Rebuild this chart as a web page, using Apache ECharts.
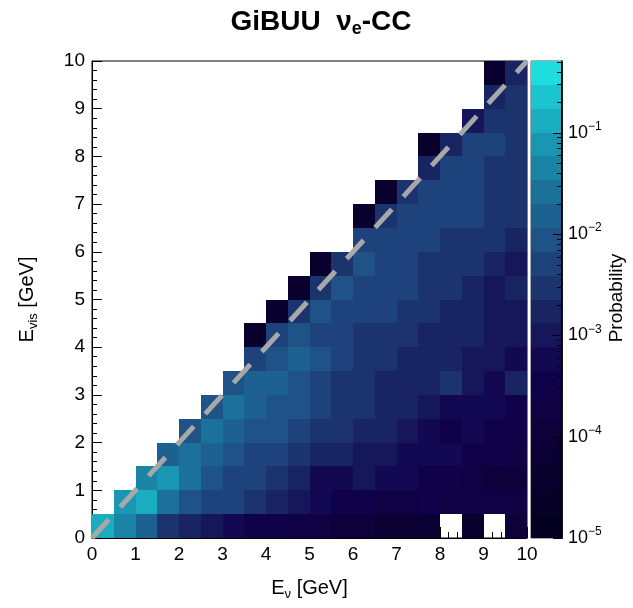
<!DOCTYPE html>
<html>
<head>
<meta charset="utf-8">
<script src="https://cdn.jsdelivr.net/npm/echarts@6/dist/echarts.min.js"></script>
<style>
  html, body { margin: 0; padding: 0; background: #fff; }
  #chart { width: 633px; height: 608px; }
</style>
</head>
<body>
<div id="chart"></div>
<script>
const FONT = '"Liberation Sans", Arial, sans-serif'

// bin edges, same for E_nu and E_vis (GeV)
const binEdges = [0, 0.5, 1, 1.5, 2, 2.5, 3, 3.5, 4, 4.5, 5, 5.5, 6, 6.5, 7, 7.5, 8, 8.5, 9, 9.5, 10]

// probability per E_nu bin (column), listed from the lowest E_vis bin upwards; null = empty bin
const colProb = [
  [0.13],
  [0.045, 0.075],
  [0.015, 0.13, 0.045],
  [0.003, 0.026, 0.075, 0.015],
  [0.0017, 0.009, 0.026, 0.026, 0.009],
  [0.001, 0.005, 0.009, 0.015, 0.026, 0.009],
  [6e-4, 0.005, 0.005, 0.009, 0.015, 0.026, 0.009],
  [3.4e-4, 0.003, 0.005, 0.005, 0.009, 0.015, 0.015, 0.005, 4e-5],
  [3.4e-4, 0.0017, 0.003, 0.005, 0.009, 0.009, 0.015, 0.009, 0.005, 4e-5],
  [2e-4, 0.001, 0.0017, 0.003, 0.005, 0.009, 0.009, 0.015, 0.009, 0.003, 4e-5],
  [2e-4, 6e-4, 6e-4, 0.0017, 0.003, 0.005, 0.005, 0.009, 0.005, 0.009, 0.003, 4e-5],
  [1.1e-4, 3.4e-4, 6e-4, 0.0017, 0.003, 0.003, 0.003, 0.005, 0.005, 0.005, 0.009, 0.003],
  [1.1e-4, 3.4e-4, 0.001, 0.001, 0.0017, 0.003, 0.003, 0.003, 0.003, 0.005, 0.005, 0.009, 0.005, 4e-5],
  [7e-5, 2e-4, 6e-4, 0.001, 0.0017, 0.0017, 0.0017, 0.003, 0.003, 0.005, 0.005, 0.005, 0.005, 0.003, 4e-5],
  [7e-5, 2e-4, 6e-4, 6e-4, 0.001, 0.0017, 0.0017, 0.0017, 0.003, 0.003, 0.005, 0.005, 0.005, 0.005, 0.003],
  [7e-5, 3.4e-4, 3.4e-4, 6e-4, 6e-4, 0.001, 0.0017, 0.0017, 0.0017, 0.003, 0.003, 0.003, 0.005, 0.005, 0.005, 0.0017, 4e-5],
  [null, 2e-4, 3.4e-4, 6e-4, 3.4e-4, 6e-4, 0.003, 0.0017, 0.0017, 0.0017, 0.003, 0.003, 0.003, 0.005, 0.005, 0.005, 0.0017],
  [4e-5, 2e-4, 2e-4, 3.4e-4, 6e-4, 6e-4, 0.001, 0.001, 0.0017, 0.0017, 0.0017, 0.003, 0.003, 0.005, 0.005, 0.005, 0.005, 0.001],
  [null, 2e-4, 1.1e-4, 3.4e-4, 3.4e-4, 6e-4, 6e-4, 0.001, 0.001, 0.001, 0.001, 0.0017, 0.003, 0.003, 0.003, 0.003, 0.005, 0.003, 0.0017, 4e-5],
  [1.1e-4, 2e-4, 1.1e-4, 2e-4, 3.4e-4, 3.4e-4, 0.0017, 6e-4, 0.001, 0.001, 0.0017, 0.001, 0.0017, 0.003, 0.003, 0.003, 0.003, 0.003, 0.003, 0.0017]
]

// diagonal E_vis = E_nu
const diagLine = [[0, 0], [10, 10]]

// colour scale (log10), 20 contour levels like ROOT
const zMin = 1e-5
const zMax = 0.51
const nLevels = 20
const cbDecades = [-5, -4, -3, -2, -1]

// ROOT kDeepSea palette stops
const paletteStops = [0, 0.125, 0.25, 0.375, 0.5, 0.625, 0.75, 0.875, 1]
const paletteR = [0, 9, 13, 17, 24, 32, 27, 25, 29]
const paletteG = [0, 0, 0, 2, 37, 74, 113, 160, 221]
const paletteB = [28, 42, 59, 78, 98, 129, 154, 184, 221]

function deepSea(t) {
  let k = 0
  while (k < paletteStops.length - 2 && t > paletteStops[k + 1]) k++
  const f = (t - paletteStops[k]) / (paletteStops[k + 1] - paletteStops[k])
  const mix = (a) => Math.round(a[k] + (a[k + 1] - a[k]) * f)
  return `rgb(${mix(paletteR)},${mix(paletteG)},${mix(paletteB)})`
}

const logLo = Math.log10(zMin)
const logHi = Math.log10(zMax)
const step = (logHi - logLo) / nLevels

const pieces = []
for (let k = 0; k < nLevels; k++) {
  const piece = {gte: logLo + k * step, color: deepSea((k + 0.99) / nLevels)}
  if (k === nLevels - 1) piece.lte = logHi + 1
  else piece.lt = logLo + (k + 1) * step
  pieces.push(piece)
}

// [x0, x1, y0, y1, log10(p)]
const cells = []
colProb.forEach((col, i) => {
  col.forEach((p, j) => {
    if (p == null) return
    cells.push([binEdges[i], binEdges[i + 1], binEdges[j], binEdges[j + 1], Math.log10(p)])
  })
})

const bands = pieces.map((pc, k) => [0, 1, logLo + k * step, logLo + (k + 1) * step, logLo + (k + 0.5) * step])

// colour-bar ticks and right edge: [x, log10 value, tick length px, unused, log10 value]
const cbTicks = []
for (let d = -5; d <= 0; d++) {
  for (let m = 1; m <= 9; m++) {
    const v = d + Math.log10(m)
    if (v <= logHi) cbTicks.push([1, v, m === 1 ? 9 : 5, 0, v])
  }
}

function renderRect(params, api) {
  const a = api.coord([api.value(0), api.value(3)])
  const b = api.coord([api.value(1), api.value(2)])
  const x0 = Math.round(a[0]), y0 = Math.round(a[1])
  const color = api.visual('color')
  return {
    type: 'rect',
    shape: {x: x0, y: y0, width: Math.round(b[0]) - x0, height: Math.round(b[1]) - y0},
    style: {fill: color}
  }
}

function renderTick(params, api) {
  const p = api.coord([api.value(0), api.value(1)])
  const len = api.value(2)
  const x = Math.round(p[0])
  const children = [{
    type: 'rect',
    shape: {x: x - len, y: Math.round(p[1]), width: len, height: 1},
    style: {fill: '#000'}
  }]
  if (params.dataIndex === 0) {
    const top = api.coord([1, logHi])
    children.push({
      type: 'rect',
      shape: {x: x - 1, y: Math.round(top[1]), width: 1.5, height: Math.round(p[1]) - Math.round(top[1]) + 1},
      style: {fill: '#000'}
    })
  }
  return {type: 'group', children: children}
}

const axisText = {color: '#000', fontFamily: FONT, fontSize: 19}

const chart = echarts.init(document.getElementById('chart'))
chart.setOption({
  animation: false,
  backgroundColor: '#fff',
  grid: [
    {left: 92, right: 106, top: 61, bottom: 70, show: true, borderColor: '#000', borderWidth: 1},
    {left: 531, right: 71, top: 61, bottom: 70, show: true, borderColor: '#555', borderWidth: 1}
  ],
  xAxis: [
    {
      type: 'value', gridIndex: 0, min: 0, max: 10, interval: 1,
      axisLine: {show: true, onZero: false, lineStyle: {color: '#000'}},
      axisTick: {show: true, inside: true, length: 11, lineStyle: {color: '#000'}},
      minorTick: {show: true, splitNumber: 5, length: 6, lineStyle: {color: '#000'}},
      splitLine: {show: false},
      axisLabel: Object.assign({margin: 7}, axisText),
      name: 'E{sub|ν} [GeV]', nameLocation: 'middle', nameGap: 38,
      nameTextStyle: Object.assign({}, axisText, {fontSize: 20, rich: {sub: {fontSize: 13, fontFamily: FONT, color: '#000', padding: [12, 0, 0, 0]}}})
    },
    {type: 'value', gridIndex: 1, min: 0, max: 1, show: false}
  ],
  yAxis: [
    {
      type: 'value', gridIndex: 0, min: 0, max: 10, interval: 1,
      axisLine: {show: true, onZero: false, lineStyle: {color: '#000'}},
      axisTick: {show: true, inside: true, length: 10, lineStyle: {color: '#000'}},
      minorTick: {show: true, splitNumber: 5, length: 5, lineStyle: {color: '#000'}},
      splitLine: {show: false},
      axisLabel: Object.assign({margin: 7}, axisText),
      name: 'E{sub|vis} [GeV]', nameLocation: 'middle', nameGap: 52, nameRotate: 90,
      nameTextStyle: Object.assign({}, axisText, {fontSize: 20, rich: {sub: {fontSize: 13, fontFamily: FONT, color: '#000', padding: [12, 0, 0, 0]}}})
    },
    {
      type: 'value', gridIndex: 1, position: 'right', offset: 0, min: logLo, max: logHi, z: 10,
      axisLine: {show: true, onZero: false, lineStyle: {color: '#000', width: 1.5}},
      axisTick: {show: false},
      splitLine: {show: false},
      axisLabel: Object.assign({}, axisText, {
        fontSize: 18, margin: 6, customValues: cbDecades,
        formatter: (v) => '10{sup|−' + Math.round(-v) + '}',
        rich: {sup: {fontSize: 12, fontFamily: FONT, color: '#000', padding: [0, 0, 12, 0]}}
      })
    }
  ],
  visualMap: {
    type: 'piecewise', show: false, dimension: 4, seriesIndex: [0, 2], pieces: pieces
  },
  graphic: [
    {
      type: 'text', x: 321, y: 22,
      style: {
        text: 'GiBUU  ν{sub|e}-CC', fontFamily: FONT, fontSize: 28, fontWeight: 'bold', fill: '#000',
        align: 'center', verticalAlign: 'middle',
        rich: {sub: {fontSize: 18, fontWeight: 'bold', fontFamily: FONT, fill: '#000', padding: [14, 0, 0, 0]}}
      }
    },
    {
      type: 'text', x: 617, y: 298, rotation: Math.PI / 2,
      style: {text: 'Probability', fontFamily: FONT, fontSize: 19, fill: '#000', align: 'center', verticalAlign: 'middle'}
    }
  ],
  series: [
    {
      type: 'custom', name: 'cells', xAxisIndex: 0, yAxisIndex: 0,
      renderItem: renderRect, data: cells, z: 2, silent: true
    },
    {
      type: 'line', xAxisIndex: 0, yAxisIndex: 0, data: diagLine, symbol: 'none', z: 5, silent: true,
      lineStyle: {color: '#a8a8a8', width: 5, type: [25, 17], cap: 'butt'}
    },
    {
      type: 'custom', name: 'colorbar', xAxisIndex: 1, yAxisIndex: 1,
      renderItem: renderRect, data: bands, z: 2, silent: true
    },
    {
      type: 'custom', name: 'colorbar ticks', xAxisIndex: 1, yAxisIndex: 1,
      renderItem: renderTick, data: cbTicks, z: 6, silent: true
    }
  ]
})
</script>
</body>
</html>
